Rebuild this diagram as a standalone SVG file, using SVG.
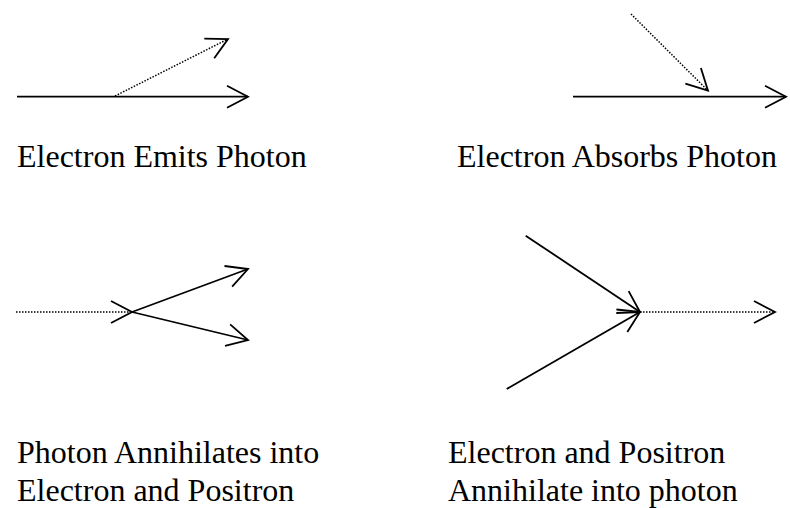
<svg xmlns="http://www.w3.org/2000/svg" width="790" height="508" viewBox="0 0 790 508">
<style>
.s{fill:none;stroke:#000;stroke-width:1.8}
.d{fill:none;stroke:#000;stroke-width:1.5;stroke-dasharray:1.5 1.5}
.a{marker-end:url(#ah)}
text{font-size:32px;fill:#000}
</style>
<defs>
<marker id="ah" markerUnits="userSpaceOnUse" orient="auto" markerWidth="30" markerHeight="30" refX="0" refY="0" viewBox="-25 -15 30 30" overflow="visible">
<path d="M-21,-11 L0,0 L-21,11" fill="none" stroke="#000" stroke-width="1.8"/>
</marker>
</defs>
<g id="connectors">
<line class="s a" x1="17" y1="96.7" x2="248" y2="96.7"/>
<line class="d a" x1="115" y1="96" x2="228" y2="39"/>
<line class="s a" x1="573" y1="96.7" x2="786" y2="96.7"/>
<line class="d a" x1="631" y1="14" x2="708" y2="90.7"/>
<line class="d a" x1="16" y1="312" x2="132" y2="312"/>
<line class="s a" x1="132" y1="312" x2="248" y2="269"/>
<line class="s a" x1="132" y1="312" x2="248" y2="340"/>
<line class="s a" x1="525.7" y1="235.7" x2="640" y2="312"/>
<line class="s a" x1="506.7" y1="389" x2="640" y2="312"/>
<line class="d a" x1="640" y1="312" x2="775" y2="312"/>
</g>
<g font-family="'Liberation Serif', 'Times New Roman', Times, serif">
<g id="label-emits"><text x="17" y="167">Electron Emits Photon</text></g>
<g id="label-absorbs"><text x="457" y="167">Electron Absorbs Photon</text></g>
<g id="label-pair"><text x="17" y="463.3">Photon Annihilates into</text><text x="17" y="500.7">Electron and Positron</text></g>
<g id="label-annihilate"><text x="448" y="463.3">Electron and Positron</text><text x="448" y="500.7">Annihilate into photon</text></g>
</g>
</svg>
